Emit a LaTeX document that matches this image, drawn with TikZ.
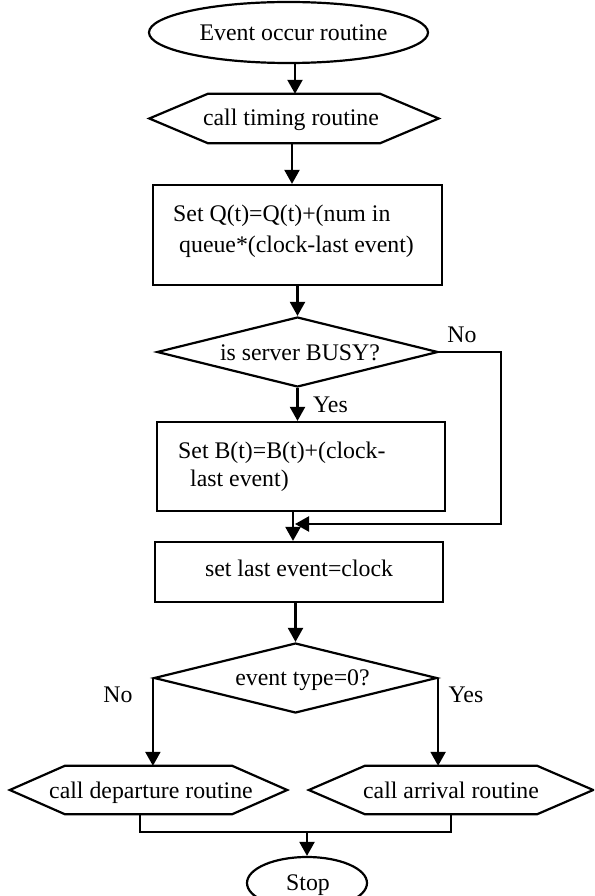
\documentclass[tikz,border=0pt]{standalone}
\usepackage{fontspec}
\setmainfont{Liberation Serif}
\usetikzlibrary{arrows.meta,shapes.geometric}
\begin{document}
\begin{tikzpicture}[x=1pt,y=-1pt,
  edgeline/.style={line width=2.2pt, line join=miter},
  arr/.style={edgeline, -{Triangle[length=14pt,width=15pt]}},
  txt/.style={inner sep=0pt, font=\fontsize{23.8}{28}\selectfont},
  term/.style={draw, edgeline, ellipse, inner sep=0pt},
  boxn/.style={draw, edgeline, rectangle, inner sep=0pt},
  decide/.style={draw, edgeline, diamond, aspect=4, inner sep=0pt},
  hexn/.style={inner sep=0pt}
]
\useasboundingbox (0,0) rectangle (594,896);
\clip (0,0) rectangle (594,896);

% shapes
\node[term, minimum width=279pt, minimum height=61pt] (start) at (288.5,32.5) {};
\node[hexn, minimum width=172pt, minimum height=49pt] (timing) at (294,118.5) {};
\node[boxn, minimum width=289pt, minimum height=100pt] (qbox) at (297.5,235) {};
\node[decide, minimum width=281pt, minimum height=70pt] (busy) at (297.5,352) {};
\node[boxn, minimum width=288pt, minimum height=89pt] (bnode) at (301,466.5) {};
\node[boxn, minimum width=288pt, minimum height=60pt] (lastev) at (299,572) {};
\node[decide, minimum width=283pt, minimum height=70pt] (evtype) at (295.5,678) {};
\node[hexn, minimum width=167pt, minimum height=48pt] (dep) at (148.5,790) {};
\node[hexn, minimum width=172pt, minimum height=48pt] (arrv) at (451,790) {};
\node[term, minimum width=120pt, minimum height=52pt] (stop) at (307,883) {};

% hexagonal call boxes
\foreach \n/\d in {timing/58.5, dep/55, arrv/56}
  \draw[edgeline] (\n.north west) -- (\n.north east) -- ([xshift=\d pt]\n.east)
    -- (\n.south east) -- (\n.south west) -- ([xshift=-\d pt]\n.west) -- cycle;

% texts
\node[txt, anchor=base] (tstart) at (293.5,40.7) {Event occur routine};
\node[txt, anchor=base] (ttiming) at (291,126) {call timing routine};
\node[txt, anchor=base west] (tq1) at (173,221) {Set Q(t)=Q(t)+(num in};
\node[txt, anchor=base west] (tq2) at (179,252) {queue*(clock-last event)};
\node[txt, anchor=base] (tbusy) at (300,360) {is server BUSY?};
\node[txt, anchor=base west] (tb1) at (178,458) {Set B(t)=B(t)+(clock-};
\node[txt, anchor=base west] (tb2) at (190,486) {last event)};
\node[txt, anchor=base] (tlast) at (299,576) {set last event=clock};
\node[txt, anchor=base] (ttype) at (302.5,685) {event type=0?};
\node[txt, anchor=base] (tdep) at (151,798) {call departure routine};
\node[txt, anchor=base] (tarr) at (451,798) {call arrival routine};
\node[txt, anchor=base] (tstop) at (308,890) {Stop};

% branch labels
\node[txt, anchor=base] (lno1) at (462,342) {No};
\node[txt, anchor=base] (lyes1) at (330.5,412) {Yes};
\node[txt, anchor=base] (lno2) at (118,702) {No};
\node[txt, anchor=base] (lyes2) at (466,702) {Yes};

% connectors
\coordinate (merge) at (295,524);
\coordinate (join) at (307,832);
\draw[arr] ([xshift=6.5pt]start.south) -- ([xshift=6.5pt]start.south |- timing.north);
\draw[arr] ([xshift=-2pt]timing.south) -- ([xshift=-2pt]timing.south |- qbox.north);
\draw[arr] (qbox.south) -- (qbox.south |- busy.north);
\draw[arr] (busy.south) -- (busy.south |- bnode.north);
\draw[arr] ([xshift=-8pt]bnode.south) -- ([xshift=-8pt]bnode.south |- lastev.north);
\draw[arr] (busy.east) -- ++(62,0) |- (merge);
\draw[arr] (lastev.south -| evtype.north) -- (evtype.north);
\draw[arr] (evtype.west) -- (evtype.west |- dep.north);
\draw[arr] (evtype.east) -- (evtype.east |- arrv.north);
\draw[edgeline] ([xshift=-8.5pt]dep.south) -- ++(0,18) -| (arrv.south);
\draw[arr] (join) -- (stop.north);
\end{tikzpicture}
\end{document}
